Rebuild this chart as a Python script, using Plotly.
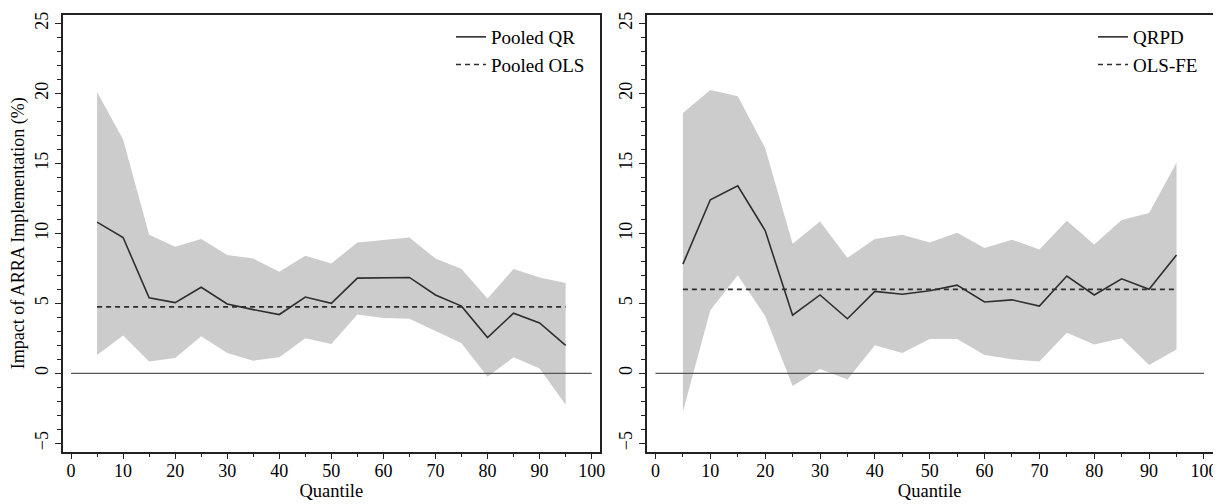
import plotly.graph_objects as go

quantiles = [5, 10, 15, 20, 25, 30, 35, 40, 45, 50, 55, 60, 65, 70, 75, 80, 85, 90, 95]

# Left panel: Pooled QR
pooled_qr = [10.8, 9.7, 5.4, 5.05, 6.15, 4.95, 4.55, 4.2, 5.45, 5.0, 6.8, 6.8, 6.85, 5.6, 4.8, 2.55, 4.3, 3.6, 2.0]
pooled_qr_upper = [20.1, 16.7, 9.9, 9.05, 9.6, 8.45, 8.2, 7.25, 8.4, 7.85, 9.35, 9.55, 9.7, 8.2, 7.45, 5.35, 7.45, 6.85, 6.45]
pooled_qr_lower = [1.3, 2.7, 0.85, 1.1, 2.65, 1.45, 0.9, 1.15, 2.5, 2.1, 4.2, 3.95, 3.9, 3.0, 2.15, -0.25, 1.15, 0.35, -2.25]
pooled_ols = 4.75

# Right panel: QRPD
qrpd = [7.8, 12.4, 13.4, 10.2, 4.15, 5.6, 3.9, 5.85, 5.65, 5.9, 6.3, 5.1, 5.25, 4.8, 6.95, 5.6, 6.75, 6.0, 8.45]
qrpd_upper = [18.6, 20.25, 19.8, 16.1, 9.25, 10.85, 8.25, 9.6, 9.9, 9.35, 10.05, 8.95, 9.55, 8.85, 10.9, 9.2, 10.95, 11.45, 15.05]
qrpd_lower = [-2.75, 4.5, 7.0, 4.1, -0.9, 0.3, -0.45, 2.0, 1.45, 2.45, 2.45, 1.3, 1.0, 0.85, 2.9, 2.05, 2.5, 0.6, 1.7]
ols_fe = 6.0

zero_x = [0, 100]
zero_y = [0, 0]

x_ticks = [0, 10, 20, 30, 40, 50, 60, 70, 80, 90, 100]
y_ticks = [-5, 0, 5, 10, 15, 20, 25]

FONT = "Liberation Serif, Times New Roman, Times, serif"
LINE = "#2e2e2e"
BAND = "#cccccc"

fig = go.Figure()

panels = [
    ("x", "y", pooled_qr, pooled_qr_upper, pooled_qr_lower, pooled_ols, "Pooled QR", "Pooled OLS", "legend"),
    ("x2", "y2", qrpd, qrpd_upper, qrpd_lower, ols_fe, "QRPD", "OLS-FE", "legend2"),
]

for xa, ya, est, up, lo, ols, name_est, name_ols, leg in panels:
    fig.add_trace(go.Scatter(x=quantiles, y=up, xaxis=xa, yaxis=ya, mode="lines",
                             line=dict(width=0, color=BAND), showlegend=False, hoverinfo="skip"))
    fig.add_trace(go.Scatter(x=quantiles, y=lo, xaxis=xa, yaxis=ya, mode="lines",
                             line=dict(width=0, color=BAND), fill="tonexty", fillcolor=BAND,
                             showlegend=False, hoverinfo="skip"))
    fig.add_trace(go.Scatter(x=zero_x, y=zero_y, xaxis=xa, yaxis=ya, mode="lines",
                             line=dict(width=1.3, color="#555555"), showlegend=False))
    fig.add_trace(go.Scatter(x=quantiles, y=est, xaxis=xa, yaxis=ya, mode="lines",
                             line=dict(width=1.6, color=LINE), name=name_est, legend=leg))
    fig.add_trace(go.Scatter(x=quantiles, y=[ols] * len(quantiles), xaxis=xa, yaxis=ya, mode="lines",
                             line=dict(width=1.6, color=LINE, dash="5px,4px"), name=name_ols, legend=leg))

# page body has an 8px default margin; figure is sized so it ends at the window edge
OFF = 8
W, H = 1221 - OFF, 504 - OFF


def px_x(p):
    return (p - OFF) / W


def px_y(p):
    return 1 - (p - OFF) / H


xd1 = [px_x(62.7), px_x(600)]
xd2 = [px_x(646.7), px_x(1212.7)]
yd = [px_y(451.7), px_y(15)]

axis_common = dict(showline=True, linecolor="#222222", linewidth=1.5, mirror=True,
                   showgrid=False, zeroline=False, ticks="outside", tickcolor="#222222",
                   ticklen=6, tickwidth=1.2, automargin=False,
                   tickfont=dict(family=FONT, size=18, color="black"))

xaxis_cfg = dict(axis_common, range=[-1.6, 101.6], tickvals=x_ticks, ticklabelstandoff=-4,
                 minor=dict(dtick=5, tick0=0, ticks="outside", ticklen=3.5, tickcolor="#222222", tickwidth=1.2),
                 title=dict(text="Quantile", font=dict(family=FONT, size=18.5, color="black"), standoff=2))
yaxis_cfg = dict(axis_common, range=[-5.6, 25.6], tickvals=y_ticks, tickangle=-90,
                 minor=dict(dtick=1, tick0=0, ticks="outside", ticklen=3.5, tickcolor="#222222", tickwidth=1.2))

legend_common = dict(xanchor="right", yanchor="top", bgcolor="rgba(0,0,0,0)",
                     font=dict(family=FONT, size=19, color="black"),
                     tracegroupgap=0, itemwidth=30, traceorder="normal")

fig.update_layout(
    width=W, height=H,
    margin=dict(l=0, r=0, t=0, b=0),
    paper_bgcolor="white", plot_bgcolor="white",
    font=dict(family=FONT, size=18, color="black"),
    xaxis=dict(xaxis_cfg, domain=xd1, anchor="y"),
    yaxis=dict(yaxis_cfg, domain=yd, anchor="x",
               title=dict(text="Impact of ARRA Implementation (%)",
                          font=dict(family=FONT, size=18, color="black"), standoff=6)),
    xaxis2=dict(xaxis_cfg, domain=xd2, anchor="y2"),
    yaxis2=dict(yaxis_cfg, domain=yd, anchor="x2"),
    legend=dict(legend_common, x=px_x(590), y=px_y(18)),
    legend2=dict(legend_common, x=px_x(1203), y=px_y(18)),
)

fig.write_html("out.html")
